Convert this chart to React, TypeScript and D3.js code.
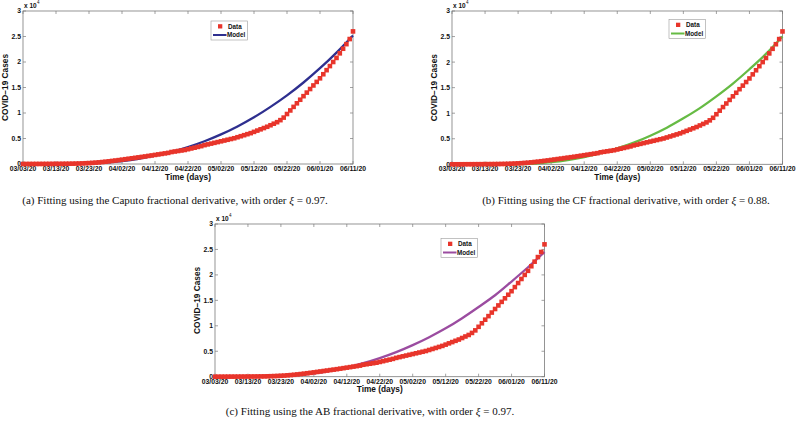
import React from "react";
import * as d3 from "d3";

const tickLabels = ["03/03/20", "03/13/20", "03/23/20", "04/02/20", "04/12/20", "04/22/20", "05/02/20", "05/12/20", "05/22/20", "06/01/20", "06/11/20"];
const tickDays = [0, 10, 20, 30, 40, 50, 60, 70, 80, 90, 100];
const yTicks = [0, 0.5, 1, 1.5, 2, 2.5, 3];
const yTickLabels = ["0", "0.5", "1", "1.5", "2", "2.5", "3"];

// daily reported cumulative cases, day 0 = 03/03/20
const cases = [
  2, 3, 5, 8, 10, 12, 15, 18, 21, 25,
  30, 35, 40, 48, 55, 65, 80, 100, 120, 150,
  180, 220, 270, 320, 380, 450, 520, 600, 680, 760,
  850, 940, 1030, 1120, 1210, 1300, 1390, 1480, 1580, 1680,
  1780, 1880, 1980, 2080, 2180, 2350, 2450, 2550, 2650, 2750,
  2900, 3050, 3200, 3350, 3500, 3700, 3850, 4000, 4150, 4300,
  4450, 4600, 4750, 4900, 5050, 5250, 5450, 5650, 5850, 6050,
  6300, 6550, 6800, 7050, 7300, 7600, 7900, 8200, 8600, 9100,
  9800, 10500, 11200, 11900, 12600, 13300, 14000, 14700, 15400, 16100,
  16800, 17600, 18400, 19200, 20000, 20800, 21700, 22600, 23500, 24500,
  26000,
];

const modelDays = [0, 5, 10, 15, 20, 25, 30, 35, 40, 45, 50, 55, 60, 65, 70, 75, 80, 85, 90, 95, 100];
const caputoModel = [0, 0, 0, 20, 100, 290, 590, 1030, 1620, 2380, 3320, 4460, 5800, 7360, 9150, 11200, 13450, 15980, 18780, 21850, 25200];
const cfModel = [0, 0, 0, 0, 30, 160, 420, 830, 1400, 2160, 3100, 4240, 5600, 7170, 9000, 11000, 13300, 15800, 18600, 21600, 25000];
const abModel = [0, 0, 0, 5, 110, 320, 670, 1170, 1800, 2650, 3650, 4830, 6200, 7760, 9500, 11500, 13700, 16000, 18700, 21500, 24500];

const seriesNames = ["Data", "Model"];
const captionPrefixes = ["(a) Fitting using the Caputo fractional derivative, with order ", "(b) Fitting using the CF fractional derivative, with order ", "(c) Fitting using the AB fractional derivative, with order "];
const orders = ["0.97", "0.88", "0.97"];

const RED = "#e8352b";
const AXIS = "#7a7a7a";
const SANS = "'Liberation Sans', Arial, Helvetica, sans-serif";
const SERIF = "'Liberation Serif', 'Times New Roman', serif";

type PanelCfg = {
  x: number; y: number; w: number; h: number;
  model: number[]; color: string;
  legend: { x: number; y: number };
  caption: { cx: number; y: number; prefix: string; order: string };
};

const panels: PanelCfg[] = [
  { x: 23, y: 11, w: 330, h: 153, model: caputoModel, color: "#2e2f8f", legend: { x: 211, y: 21 }, caption: { cx: 175, y: 204, prefix: captionPrefixes[0], order: orders[0] } },
  { x: 452, y: 11, w: 330.5, h: 153.3, model: cfModel, color: "#66bb44", legend: { x: 669, y: 19.5 }, caption: { cx: 626, y: 204, prefix: captionPrefixes[1], order: orders[1] } },
  { x: 215, y: 224, w: 329.5, h: 152.7, model: abModel, color: "#9b4ca0", legend: { x: 441, y: 238.5 }, caption: { cx: 370, y: 415, prefix: captionPrefixes[2], order: orders[2] } },
];

function Panel({ p }: { p: PanelCfg }) {
  const xs = d3.scaleLinear().domain([0, 100]).range([p.x, p.x + p.w]);
  const ys = d3.scaleLinear().domain([0, 30000]).range([p.y + p.h, p.y]);
  const line = d3.line<number>().x((_, i) => xs(modelDays[i])).y((d) => ys(d)).curve(d3.curveMonotoneX);
  const ms = 4.6;
  const tl = 3;
  const bottom = p.y + p.h;
  const right = p.x + p.w;
  const lg = p.legend;
  return (
    <g>
      <rect x={p.x} y={p.y} width={p.w} height={p.h} fill="white" stroke={AXIS} strokeWidth={0.8} />
      {tickDays.map((d, i) => (
        <g key={"xt" + i}>
          <line x1={xs(d)} x2={xs(d)} y1={bottom} y2={bottom - tl} stroke={AXIS} strokeWidth={0.7} />
          <line x1={xs(d)} x2={xs(d)} y1={p.y} y2={p.y + tl} stroke={AXIS} strokeWidth={0.7} />
          <text x={xs(d)} y={bottom + 7} fontSize={6.8} fontWeight="bold" textAnchor="middle" fontFamily={SANS} fill="#111">{tickLabels[i]}</text>
        </g>
      ))}
      {yTicks.map((v, i) => (
        <g key={"yt" + i}>
          <line x1={p.x} x2={p.x + tl} y1={ys(v * 1e4)} y2={ys(v * 1e4)} stroke={AXIS} strokeWidth={0.7} />
          <line x1={right} x2={right - tl} y1={ys(v * 1e4)} y2={ys(v * 1e4)} stroke={AXIS} strokeWidth={0.7} />
          <text x={p.x - 2} y={ys(v * 1e4) + 2.4} fontSize={6.8} fontWeight="bold" textAnchor="end" fontFamily={SANS} fill="#111">{yTickLabels[i]}</text>
        </g>
      ))}
      <text x={p.x + 1} y={p.y - 3} fontSize={6.5} fontFamily={SANS} fontWeight="bold" fill="#111">x 10</text>
      <text x={p.x + 14} y={p.y - 7.5} fontSize={4.5} fontFamily={SANS} fill="#111">4</text>
      <text x={p.x + p.w / 2} y={bottom + 15.5} fontSize={8.3} fontWeight="bold" textAnchor="middle" fontFamily={SANS} fill="#111">Time (days)</text>
      <text transform={`translate(${p.x - 15},${p.y + p.h / 2}) rotate(-90)`} fontSize={8.3} fontWeight="bold" textAnchor="middle" fontFamily={SANS} fill="#111">COVID−19 Cases</text>
      <path d={line(p.model) || ""} fill="none" stroke={p.color} strokeWidth={2.3} />
      {cases.map((c, i) => (
        <rect key={"m" + i} x={xs(i) - ms / 2} y={ys(c) - ms / 2} width={ms} height={ms} fill={RED} />
      ))}
      <rect x={lg.x} y={lg.y} width={36.5} height={19} fill="white" stroke="#9a9a9a" strokeWidth={0.6} />
      <rect x={lg.x + 7} y={lg.y + 3.2} width={4.3} height={4.3} fill={RED} />
      <text x={lg.x + 17} y={lg.y + 7.7} fontSize={6.3} fontWeight="bold" fontFamily={SANS} fill="#111">{seriesNames[0]}</text>
      <line x1={lg.x + 2} x2={lg.x + 15.5} y1={lg.y + 14} y2={lg.y + 14} stroke={p.color} strokeWidth={2} />
      <text x={lg.x + 16} y={lg.y + 16.3} fontSize={6.3} fontWeight="bold" fontFamily={SANS} fill="#111">{seriesNames[1]}</text>
      <text x={p.caption.cx} y={p.caption.y} fontSize={11} fontFamily={SERIF} textAnchor="middle" fill="#111">
        {p.caption.prefix}
        <tspan fontStyle="italic">ξ</tspan>
        {" = " + p.caption.order + "."}
      </text>
    </g>
  );
}

export default function App() {
  return (
    <svg width={797} height={422} style={{ position: "absolute", left: 0, top: 0, background: "white" }}>
      <rect x={0} y={0} width={797} height={422} fill="white" />
      {panels.map((p, i) => (
        <Panel key={i} p={p} />
      ))}
    </svg>
  );
}
